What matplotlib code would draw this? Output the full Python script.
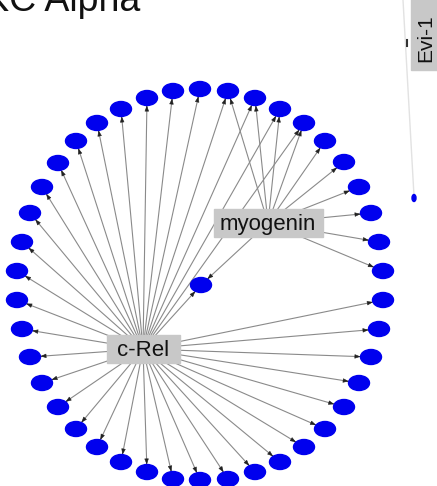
import numpy as np
import matplotlib
matplotlib.use("Agg")
import matplotlib.pyplot as plt
from matplotlib.patches import Ellipse, Rectangle

plt.rcParams['font.family'] = ['Liberation Sans', 'DejaVu Sans']

# node centres (pixel coords, y down)
node_x = [200, 173, 147, 121, 97, 76, 58, 42, 30, 22, 17, 17, 22, 30, 42, 58, 76, 97, 121, 147, 173,
          200, 228, 255, 280, 304, 325, 344, 359, 371, 379, 383, 383, 379, 371, 359, 344, 325, 304, 280,
          255, 228, 201]
node_y = [89, 91, 98, 109, 123, 141, 163, 187, 213, 242, 271, 300, 329, 357, 383, 407, 429, 447, 462, 472, 479,
          480, 479, 472, 462, 447, 429, 407, 383, 357, 329, 300, 271, 242, 213, 187, 162, 141, 123, 109,
          98, 91, 285]

hub_names = ["c-Rel", "myogenin"]
hub_x = [143, 268]
hub_y = [349, 223]
crel_to = list(range(0, 32)) + [38, 39, 40, 41, 42]
myog_to = list(range(32, 43))
hub_targets = [crel_to, myog_to]

title = "PKC Alpha"
side_hub = "Evi-1"
side_node = (414, 198)

W, H = 437, 486
fig = plt.figure(figsize=(W / 100, H / 100), dpi=100)
ax = fig.add_axes([0, 0, 1, 1])
ax.set_xlim(0, W)
ax.set_ylim(H, 0)
ax.axis('off')

a, b = 10.5, 7.5  # ellipse half axes

for h in range(len(hub_names)):
	hx, hy = hub_x[h], hub_y[h]
	for i in hub_targets[h]:
		nx, ny = node_x[i], node_y[i]
		dx, dy = hx - nx, hy - ny
		t = 1 / np.sqrt((dx / a) ** 2 + (dy / b) ** 2)
		ex, ey = nx + dx * t, ny + dy * t
		ax.plot([hx, ex], [hy, ey], color='#8a8a8a', lw=0.8, zorder=1)
		L = np.hypot(dx, dy)
		sx, sy = ex + dx / L * 5, ey + dy / L * 5
		ax.annotate('', xy=(ex, ey), xytext=(sx, sy),
			arrowprops=dict(arrowstyle='-|>,head_length=0.35,head_width=0.13',
				color='#222222', lw=0.4, shrinkA=0, shrinkB=0), zorder=2)

for i in range(len(node_x)):
	ax.add_patch(Ellipse((node_x[i], node_y[i]), 2 * a, 2 * b, color='#0000ee', zorder=3))

box_w = [73, 109]
for h in range(len(hub_names)):
	ax.add_patch(Rectangle((hub_x[h] - box_w[h] / 2, hub_y[h] - 14), box_w[h], 28,
		color='#c8c8c8', zorder=4))
	ax.text(hub_x[h], hub_y[h] + 1, hub_names[h], ha='center', va='center',
		fontsize=16, color='#111111', zorder=5)

# Evi-1 hub at the right edge, cut off
ax.plot([403, side_node[0]], [0, side_node[1] - 2], color='#e2e2e2', lw=1, zorder=1)
ax.plot([407, 407], [40, 46], color='#333333', lw=1.5, zorder=2)
ax.add_patch(Ellipse(side_node, 4, 7, color='#0000ee', zorder=3))
ax.add_patch(Rectangle((411, -5), 30, 75, color='#c8c8c8', zorder=4))
ax.text(426, 38, side_hub, rotation=90, ha='center', va='center', fontsize=15,
	color='#111111', zorder=5)

# title, mostly above the top edge like in the source
ax.text(140, 11, title, ha='right', va='baseline', fontsize=27, color='#111111')

fig.savefig("out.png", dpi=100)
